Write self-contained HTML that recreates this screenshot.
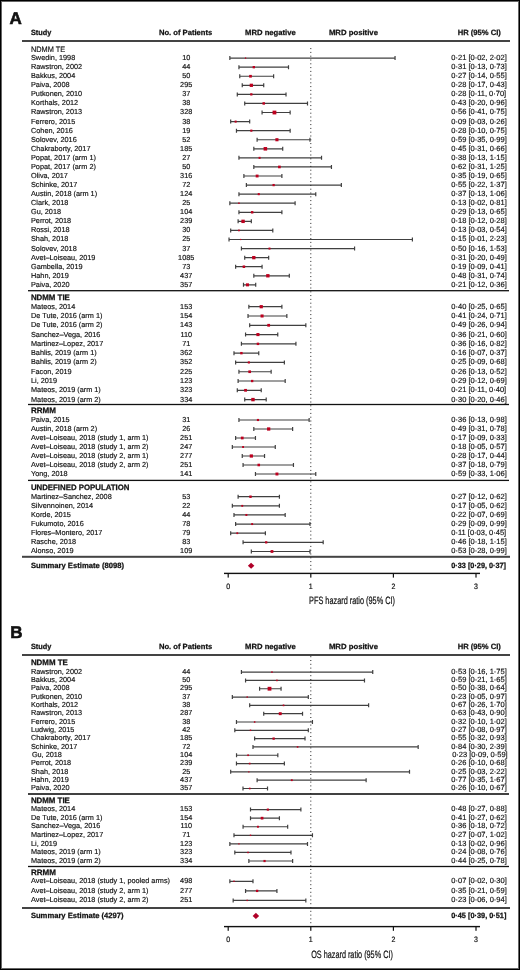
<!DOCTYPE html>
<html><head><meta charset="utf-8"><style>
html,body{margin:0;padding:0;background:#fff}
body{width:520px;height:970px;overflow:hidden;position:relative}
.frame{position:absolute;left:0;top:0;width:518px;height:968px;border:1px solid #000}
.frame2{position:absolute;left:1px;top:1px;width:516px;height:966px;border:1px solid #666}
svg{position:absolute;left:0;top:0;will-change:transform}

text{font-family:"Liberation Sans", sans-serif;fill:#111;text-rendering:geometricPrecision;stroke:#111;stroke-width:0.16px}
.r{font-size:7.3px}
.h{font-size:7.5px}
.gb{font-size:7.9px;font-weight:bold;stroke-width:0.25px}
.gr{font-size:7.9px}
.b{font-size:7.6px;font-weight:bold;stroke-width:0.25px}
.w{stroke:#404040;stroke-width:1.2;fill:none}
.pt{fill:#bd001f}
.c{font-size:10.6px;stroke:#111;stroke-width:0.22px}
.tk{font-size:7.8px;stroke:#111;stroke-width:0.2px}

</style></head><body>
<svg width="520" height="970" viewBox="0 0 520 970">
<text x="9.6" y="23.75" style="font-size:17px;font-weight:bold;stroke-width:0.6px">A</text>
<text x="30.9" y="34.60" class="b" textLength="20.4" lengthAdjust="spacingAndGlyphs">Study</text>
<text x="158.9" y="34.60" class="b" textLength="53.4" lengthAdjust="spacingAndGlyphs">No. of Patients</text>
<text x="245.1" y="34.60" class="b" textLength="50.6" lengthAdjust="spacingAndGlyphs">MRD negative</text>
<text x="328.9" y="34.60" class="b" textLength="49.1" lengthAdjust="spacingAndGlyphs">MRD positive</text>
<text x="457.7" y="34.60" class="b" textLength="43.1" lengthAdjust="spacingAndGlyphs">HR (95% CI)</text>
<rect x="22" y="40.0" width="488" height="2" fill="#444"/>
<text x="30.9" y="51.90" class="gr" textLength="34.3" lengthAdjust="spacingAndGlyphs">NDMM TE</text>
<text x="31" y="60.05" class="r">Swedin, 1998</text>
<text x="186.2" y="60.05" class="r" text-anchor="middle">10</text>
<text x="451.3" y="60.05" class="h">0·21 [0·02, 2·02]</text>
<path d="M229.85 58.10H395.05M229.85 56.10v4M395.05 56.10v4" class="w"/>
<rect x="244.89" y="57.45" width="1.30" height="1.30" class="pt"/>
<text x="31" y="69.12" class="r">Rawstron, 2002</text>
<text x="186.2" y="69.12" class="r" text-anchor="middle">44</text>
<text x="451.3" y="69.12" class="h">0·31 [0·13, 0·73]</text>
<path d="M238.94 67.17H288.50M238.94 65.17v4M288.50 65.17v4" class="w"/>
<rect x="252.63" y="66.00" width="2.35" height="2.35" class="pt"/>
<text x="31" y="78.19" class="r">Bakkus, 2004</text>
<text x="186.2" y="78.19" class="r" text-anchor="middle">50</text>
<text x="451.3" y="78.19" class="h">0·27 [0·14, 0·55]</text>
<path d="M239.76 76.24H273.63M239.76 74.24v4M273.63 74.24v4" class="w"/>
<rect x="249.16" y="74.90" width="2.69" height="2.69" class="pt"/>
<text x="31" y="87.26" class="r">Paiva, 2008</text>
<text x="186.2" y="87.26" class="r" text-anchor="middle">295</text>
<text x="451.3" y="87.26" class="h">0·28 [0·17, 0·43]</text>
<path d="M242.24 85.31H263.72M242.24 83.31v4M263.72 83.31v4" class="w"/>
<rect x="249.70" y="83.68" width="3.26" height="3.26" class="pt"/>
<text x="31" y="96.33" class="r">Putkonen, 2010</text>
<text x="186.2" y="96.33" class="r" text-anchor="middle">37</text>
<text x="451.3" y="96.33" class="h">0·28 [0·11, 0·70]</text>
<path d="M237.29 94.38H286.02M237.29 92.38v4M286.02 92.38v4" class="w"/>
<rect x="250.20" y="93.25" width="2.25" height="2.25" class="pt"/>
<text x="31" y="105.40" class="r">Korthals, 2012</text>
<text x="186.2" y="105.40" class="r" text-anchor="middle">38</text>
<text x="451.3" y="105.40" class="h">0·43 [0·20, 0·96]</text>
<path d="M244.72 103.45H307.50M244.72 101.45v4M307.50 101.45v4" class="w"/>
<rect x="262.48" y="102.21" width="2.48" height="2.48" class="pt"/>
<text x="31" y="114.47" class="r">Rawstron, 2013</text>
<text x="186.2" y="114.47" class="r" text-anchor="middle">328</text>
<text x="451.3" y="114.47" class="h">0·56 [0·41, 0·75]</text>
<path d="M262.07 112.52H290.15M262.07 110.52v4M290.15 110.52v4" class="w"/>
<rect x="272.56" y="110.62" width="3.80" height="3.80" class="pt"/>
<text x="31" y="123.54" class="r">Ferrero, 2015</text>
<text x="186.2" y="123.54" class="r" text-anchor="middle">38</text>
<text x="451.3" y="123.54" class="h">0·09 [0·03, 0·26]</text>
<path d="M230.68 121.59H249.68M230.68 119.59v4M249.68 119.59v4" class="w"/>
<rect x="234.61" y="120.57" width="2.05" height="2.05" class="pt"/>
<text x="31" y="132.61" class="r">Cohen, 2016</text>
<text x="186.2" y="132.61" class="r" text-anchor="middle">19</text>
<text x="451.3" y="132.61" class="h">0·28 [0·10, 0·75]</text>
<path d="M236.46 130.66H290.15M236.46 128.66v4M290.15 128.66v4" class="w"/>
<rect x="250.26" y="129.59" width="2.14" height="2.14" class="pt"/>
<text x="31" y="141.68" class="r">Solovev, 2016</text>
<text x="186.2" y="141.68" class="r" text-anchor="middle">52</text>
<text x="451.3" y="141.68" class="h">0·59 [0·35, 0·99]</text>
<path d="M257.11 139.73H309.97M257.11 137.73v4M309.97 137.73v4" class="w"/>
<rect x="275.38" y="138.18" width="3.10" height="3.10" class="pt"/>
<text x="31" y="150.75" class="r">Chakraborty, 2017</text>
<text x="186.2" y="150.75" class="r" text-anchor="middle">185</text>
<text x="451.3" y="150.75" class="h">0·45 [0·31, 0·66]</text>
<path d="M253.81 148.80H282.72M253.81 146.80v4M282.72 146.80v4" class="w"/>
<rect x="263.60" y="147.03" width="3.54" height="3.54" class="pt"/>
<text x="31" y="159.82" class="r">Popat, 2017 (arm 1)</text>
<text x="186.2" y="159.82" class="r" text-anchor="middle">27</text>
<text x="451.3" y="159.82" class="h">0·38 [0·13, 1·15]</text>
<path d="M238.94 157.87H321.54M238.94 155.87v4M321.54 155.87v4" class="w"/>
<rect x="258.57" y="156.85" width="2.03" height="2.03" class="pt"/>
<text x="31" y="168.89" class="r">Popat, 2017 (arm 2)</text>
<text x="186.2" y="168.89" class="r" text-anchor="middle">50</text>
<text x="451.3" y="168.89" class="h">0·62 [0·31, 1·25]</text>
<path d="M253.81 166.94H331.45M253.81 164.94v4M331.45 164.94v4" class="w"/>
<rect x="278.08" y="165.61" width="2.66" height="2.66" class="pt"/>
<text x="31" y="177.96" class="r">Oliva, 2017</text>
<text x="186.2" y="177.96" class="r" text-anchor="middle">316</text>
<text x="451.3" y="177.96" class="h">0·35 [0·19, 0·65]</text>
<path d="M243.89 176.01H281.89M243.89 174.01v4M281.89 174.01v4" class="w"/>
<rect x="255.69" y="174.59" width="2.85" height="2.85" class="pt"/>
<text x="31" y="187.03" class="r">Schinke, 2017</text>
<text x="186.2" y="187.03" class="r" text-anchor="middle">72</text>
<text x="451.3" y="187.03" class="h">0·55 [0·22, 1·37]</text>
<path d="M246.37 185.08H341.36M246.37 183.08v4M341.36 183.08v4" class="w"/>
<rect x="272.50" y="183.95" width="2.27" height="2.27" class="pt"/>
<text x="31" y="196.10" class="r">Austin, 2018 (arm 1)</text>
<text x="186.2" y="196.10" class="r" text-anchor="middle">124</text>
<text x="451.3" y="196.10" class="h">0·37 [0·13, 1·06]</text>
<path d="M238.94 194.15H315.76M238.94 192.15v4M315.76 192.15v4" class="w"/>
<rect x="257.72" y="193.11" width="2.08" height="2.08" class="pt"/>
<text x="31" y="205.17" class="r">Clark, 2018</text>
<text x="186.2" y="205.17" class="r" text-anchor="middle">25</text>
<text x="451.3" y="205.17" class="h">0·13 [0·02, 0·81]</text>
<path d="M229.85 203.22H295.11M229.85 201.22v4M295.11 201.22v4" class="w"/>
<rect x="238.20" y="202.48" width="1.48" height="1.48" class="pt"/>
<text x="31" y="214.24" class="r">Gu, 2018</text>
<text x="186.2" y="214.24" class="r" text-anchor="middle">104</text>
<text x="451.3" y="214.24" class="h">0·29 [0·13, 0·65]</text>
<path d="M238.94 212.29H281.89M238.94 210.29v4M281.89 210.29v4" class="w"/>
<rect x="250.93" y="211.07" width="2.45" height="2.45" class="pt"/>
<text x="31" y="223.31" class="r">Perrot, 2018</text>
<text x="186.2" y="223.31" class="r" text-anchor="middle">239</text>
<text x="451.3" y="223.31" class="h">0·18 [0·12, 0·28]</text>
<path d="M238.11 221.36H251.33M238.11 219.36v4M251.33 219.36v4" class="w"/>
<rect x="241.37" y="219.66" width="3.39" height="3.39" class="pt"/>
<text x="31" y="232.38" class="r">Rossi, 2018</text>
<text x="186.2" y="232.38" class="r" text-anchor="middle">30</text>
<text x="451.3" y="232.38" class="h">0·13 [0·03, 0·54]</text>
<path d="M230.68 230.43H272.80M230.68 228.43v4M272.80 228.43v4" class="w"/>
<rect x="238.08" y="229.57" width="1.71" height="1.71" class="pt"/>
<text x="31" y="241.45" class="r">Shah, 2018</text>
<text x="186.2" y="241.45" class="r" text-anchor="middle">25</text>
<text x="451.3" y="241.45" class="h">0·15 [0·01, 2·23]</text>
<path d="M229.03 239.50H412.40M229.03 237.50v4M412.40 237.50v4" class="w"/>
<rect x="239.99" y="238.90" width="1.20" height="1.20" class="pt"/>
<text x="31" y="250.52" class="r">Solovev, 2018</text>
<text x="186.2" y="250.52" class="r" text-anchor="middle">37</text>
<text x="451.3" y="250.52" class="h">0·50 [0·16, 1·53]</text>
<path d="M241.42 248.57H354.58M241.42 246.57v4M354.58 246.57v4" class="w"/>
<rect x="268.50" y="247.57" width="1.99" height="1.99" class="pt"/>
<text x="31" y="259.59" class="r">Avet–Loiseau, 2019</text>
<text x="186.2" y="259.59" class="r" text-anchor="middle">1085</text>
<text x="451.3" y="259.59" class="h">0·31 [0·20, 0·49]</text>
<path d="M244.72 257.64H268.67M244.72 255.64v4M268.67 255.64v4" class="w"/>
<rect x="252.15" y="255.98" width="3.31" height="3.31" class="pt"/>
<text x="31" y="268.66" class="r">Gambella, 2019</text>
<text x="186.2" y="268.66" class="r" text-anchor="middle">73</text>
<text x="451.3" y="268.66" class="h">0·19 [0·09, 0·41]</text>
<path d="M235.63 266.71H262.07M235.63 264.71v4M262.07 264.71v4" class="w"/>
<rect x="242.63" y="265.44" width="2.53" height="2.53" class="pt"/>
<text x="31" y="277.73" class="r">Hahn, 2019</text>
<text x="186.2" y="277.73" class="r" text-anchor="middle">437</text>
<text x="451.3" y="277.73" class="h">0·48 [0·31, 0·74]</text>
<path d="M253.81 275.78H289.32M253.81 273.78v4M289.32 273.78v4" class="w"/>
<rect x="266.17" y="274.10" width="3.35" height="3.35" class="pt"/>
<text x="31" y="286.80" class="r">Paiva, 2020</text>
<text x="186.2" y="286.80" class="r" text-anchor="middle">357</text>
<text x="451.3" y="286.80" class="h">0·21 [0·12, 0·36]</text>
<path d="M243.48 284.85H255.71M243.48 282.85v4M255.71 282.85v4" class="w"/>
<rect x="245.94" y="283.34" width="3.02" height="3.02" class="pt"/>
<rect x="28" y="290.05" width="481" height="1.3" fill="#111"/>
<text x="30.9" y="299.50" class="gb" textLength="39" lengthAdjust="spacingAndGlyphs">NDMM TIE</text>
<text x="31" y="308.65" class="r">Mateos, 2014</text>
<text x="186.2" y="308.65" class="r" text-anchor="middle">153</text>
<text x="451.3" y="308.65" class="h">0·40 [0·25, 0·65]</text>
<path d="M248.85 306.70H281.89M248.85 304.70v4M281.89 304.70v4" class="w"/>
<rect x="259.63" y="305.09" width="3.22" height="3.22" class="pt"/>
<text x="31" y="317.94" class="r">De Tute, 2016 (arm 1)</text>
<text x="186.2" y="317.94" class="r" text-anchor="middle">154</text>
<text x="451.3" y="317.94" class="h">0·41 [0·24, 0·71]</text>
<path d="M248.02 315.99H286.85M248.02 313.99v4M286.85 313.99v4" class="w"/>
<rect x="260.55" y="314.47" width="3.04" height="3.04" class="pt"/>
<text x="31" y="327.23" class="r">De Tute, 2016 (arm 2)</text>
<text x="186.2" y="327.23" class="r" text-anchor="middle">143</text>
<text x="451.3" y="327.23" class="h">0·49 [0·26, 0·94]</text>
<path d="M249.68 325.28H305.84M249.68 323.28v4M305.84 323.28v4" class="w"/>
<rect x="267.28" y="323.89" width="2.78" height="2.78" class="pt"/>
<text x="31" y="336.52" class="r">Sanchez–Vega, 2016</text>
<text x="186.2" y="336.52" class="r" text-anchor="middle">110</text>
<text x="451.3" y="336.52" class="h">0·36 [0·21, 0·60]</text>
<path d="M245.55 334.57H277.76M245.55 332.57v4M277.76 332.57v4" class="w"/>
<rect x="256.39" y="333.03" width="3.08" height="3.08" class="pt"/>
<text x="31" y="345.81" class="r">Martinez–Lopez, 2017</text>
<text x="186.2" y="345.81" class="r" text-anchor="middle">71</text>
<text x="451.3" y="345.81" class="h">0·36 [0·16, 0·82]</text>
<path d="M241.42 343.86H295.93M241.42 341.86v4M295.93 341.86v4" class="w"/>
<rect x="256.72" y="342.65" width="2.43" height="2.43" class="pt"/>
<text x="31" y="355.10" class="r">Bahlis, 2019 (arm 1)</text>
<text x="186.2" y="355.10" class="r" text-anchor="middle">362</text>
<text x="451.3" y="355.10" class="h">0·16 [0·07, 0·37]</text>
<path d="M233.98 353.15H258.76M233.98 351.15v4M258.76 351.15v4" class="w"/>
<rect x="240.22" y="351.95" width="2.40" height="2.40" class="pt"/>
<text x="31" y="364.39" class="r">Bahlis, 2019 (arm 2)</text>
<text x="186.2" y="364.39" class="r" text-anchor="middle">352</text>
<text x="451.3" y="364.39" class="h">0·25 [0·09, 0·68]</text>
<path d="M235.63 362.44H284.37M235.63 360.44v4M284.37 360.44v4" class="w"/>
<rect x="247.78" y="361.37" width="2.13" height="2.13" class="pt"/>
<text x="31" y="373.68" class="r">Facon, 2019</text>
<text x="186.2" y="373.68" class="r" text-anchor="middle">225</text>
<text x="451.3" y="373.68" class="h">0·26 [0·13, 0·52]</text>
<path d="M238.94 371.73H271.15M238.94 369.73v4M271.15 369.73v4" class="w"/>
<rect x="248.34" y="370.40" width="2.67" height="2.67" class="pt"/>
<text x="31" y="382.97" class="r">Li, 2019</text>
<text x="186.2" y="382.97" class="r" text-anchor="middle">123</text>
<text x="451.3" y="382.97" class="h">0·29 [0·12, 0·69]</text>
<path d="M238.11 381.02H285.19M238.11 379.02v4M285.19 379.02v4" class="w"/>
<rect x="250.99" y="379.86" width="2.33" height="2.33" class="pt"/>
<text x="31" y="392.26" class="r">Mateos, 2019 (arm 1)</text>
<text x="186.2" y="392.26" class="r" text-anchor="middle">323</text>
<text x="451.3" y="392.26" class="h">0·21 [0·11, 0·40]</text>
<path d="M237.29 390.31H261.24M237.29 388.31v4M261.24 388.31v4" class="w"/>
<rect x="244.16" y="388.92" width="2.77" height="2.77" class="pt"/>
<text x="31" y="401.55" class="r">Mateos, 2019 (arm 2)</text>
<text x="186.2" y="401.55" class="r" text-anchor="middle">334</text>
<text x="451.3" y="401.55" class="h">0·30 [0·20, 0·46]</text>
<path d="M244.72 399.60H266.20M244.72 397.60v4M266.20 397.60v4" class="w"/>
<rect x="251.27" y="397.89" width="3.41" height="3.41" class="pt"/>
<rect x="28" y="403.85" width="481" height="1.3" fill="#111"/>
<text x="30.9" y="412.70" class="gb" textLength="25" lengthAdjust="spacingAndGlyphs">RRMM</text>
<text x="31" y="421.95" class="r">Paiva, 2015</text>
<text x="186.2" y="421.95" class="r" text-anchor="middle">31</text>
<text x="451.3" y="421.95" class="h">0·36 [0·13, 0·98]</text>
<path d="M238.94 420.00H309.15M238.94 418.00v4M309.15 418.00v4" class="w"/>
<rect x="256.87" y="418.93" width="2.13" height="2.13" class="pt"/>
<text x="31" y="430.95" class="r">Austin, 2018 (arm 2)</text>
<text x="186.2" y="430.95" class="r" text-anchor="middle">26</text>
<text x="451.3" y="430.95" class="h">0·49 [0·31, 0·78]</text>
<path d="M253.81 429.00H292.63M253.81 427.00v4M292.63 427.00v4" class="w"/>
<rect x="267.04" y="427.36" width="3.27" height="3.27" class="pt"/>
<text x="31" y="439.95" class="r">Avet–Loiseau, 2018 (study 1, arm 1)</text>
<text x="186.2" y="439.95" class="r" text-anchor="middle">251</text>
<text x="451.3" y="439.95" class="h">0·17 [0·09, 0·33]</text>
<path d="M235.63 438.00H255.46M235.63 436.00v4M255.46 436.00v4" class="w"/>
<rect x="240.86" y="436.62" width="2.76" height="2.76" class="pt"/>
<text x="31" y="448.95" class="r">Avet–Loiseau, 2018 (study 1, arm 2)</text>
<text x="186.2" y="448.95" class="r" text-anchor="middle">247</text>
<text x="451.3" y="448.95" class="h">0·18 [0·05, 0·57]</text>
<path d="M232.33 447.00H275.28M232.33 445.00v4M275.28 445.00v4" class="w"/>
<rect x="242.12" y="446.05" width="1.90" height="1.90" class="pt"/>
<text x="31" y="457.95" class="r">Avet–Loiseau, 2018 (study 2, arm 1)</text>
<text x="186.2" y="457.95" class="r" text-anchor="middle">277</text>
<text x="451.3" y="457.95" class="h">0·28 [0·17, 0·44]</text>
<path d="M242.24 456.00H264.54M242.24 454.00v4M264.54 454.00v4" class="w"/>
<rect x="249.71" y="454.39" width="3.23" height="3.23" class="pt"/>
<text x="31" y="466.95" class="r">Avet–Loiseau, 2018 (study 2, arm 2)</text>
<text x="186.2" y="466.95" class="r" text-anchor="middle">251</text>
<text x="451.3" y="466.95" class="h">0·37 [0·18, 0·79]</text>
<path d="M243.07 465.00H293.45M243.07 463.00v4M293.45 463.00v4" class="w"/>
<rect x="257.48" y="463.71" width="2.57" height="2.57" class="pt"/>
<text x="31" y="475.95" class="r">Yong, 2018</text>
<text x="186.2" y="475.95" class="r" text-anchor="middle">141</text>
<text x="451.3" y="475.95" class="h">0·59 [0·33, 1·06]</text>
<path d="M255.46 474.00H315.76M255.46 472.00v4M315.76 472.00v4" class="w"/>
<rect x="275.47" y="472.54" width="2.93" height="2.93" class="pt"/>
<rect x="28" y="479.75" width="481" height="1.3" fill="#111"/>
<text x="30.9" y="489.70" class="gb" textLength="98.6" lengthAdjust="spacingAndGlyphs">UNDEFINED POPULATION</text>
<text x="31" y="498.65" class="r">Martinez–Sanchez, 2008</text>
<text x="186.2" y="498.65" class="r" text-anchor="middle">53</text>
<text x="451.3" y="498.65" class="h">0·27 [0·12, 0·62]</text>
<path d="M238.11 496.70H279.41M238.11 494.70v4M279.41 494.70v4" class="w"/>
<rect x="249.29" y="495.49" width="2.42" height="2.42" class="pt"/>
<text x="31" y="507.78" class="r">Silvennoinen, 2014</text>
<text x="186.2" y="507.78" class="r" text-anchor="middle">22</text>
<text x="451.3" y="507.78" class="h">0·17 [0·05, 0·62]</text>
<path d="M232.33 505.83H279.41M232.33 503.83v4M279.41 503.83v4" class="w"/>
<rect x="241.31" y="504.90" width="1.86" height="1.86" class="pt"/>
<text x="31" y="516.91" class="r">Korde, 2015</text>
<text x="186.2" y="516.91" class="r" text-anchor="middle">44</text>
<text x="451.3" y="516.91" class="h">0·22 [0·07, 0·69]</text>
<path d="M233.98 514.96H285.19M233.98 512.96v4M285.19 512.96v4" class="w"/>
<rect x="245.38" y="513.97" width="1.97" height="1.97" class="pt"/>
<text x="31" y="526.04" class="r">Fukumoto, 2016</text>
<text x="186.2" y="526.04" class="r" text-anchor="middle">78</text>
<text x="451.3" y="526.04" class="h">0·29 [0·09, 0·99]</text>
<path d="M235.63 524.09H309.97M235.63 522.09v4M309.97 522.09v4" class="w"/>
<rect x="251.19" y="523.13" width="1.92" height="1.92" class="pt"/>
<text x="31" y="535.17" class="r">Flores–Montero, 2017</text>
<text x="186.2" y="535.17" class="r" text-anchor="middle">79</text>
<text x="451.3" y="535.17" class="h">0·11 [0·03, 0·45]</text>
<path d="M230.68 533.22H265.37M230.68 531.22v4M265.37 531.22v4" class="w"/>
<rect x="236.40" y="532.33" width="1.78" height="1.78" class="pt"/>
<text x="31" y="544.30" class="r">Rasche, 2018</text>
<text x="186.2" y="544.30" class="r" text-anchor="middle">83</text>
<text x="451.3" y="544.30" class="h">0·46 [0·18, 1·15]</text>
<path d="M243.07 542.35H323.19M243.07 540.35v4M323.19 540.35v4" class="w"/>
<rect x="265.07" y="541.23" width="2.25" height="2.25" class="pt"/>
<text x="31" y="553.43" class="r">Alonso, 2019</text>
<text x="186.2" y="553.43" class="r" text-anchor="middle">109</text>
<text x="451.3" y="553.43" class="h">0·53 [0·28, 0·99]</text>
<path d="M251.33 551.48H309.97M251.33 549.48v4M309.97 549.48v4" class="w"/>
<rect x="270.57" y="550.08" width="2.81" height="2.81" class="pt"/>
<rect x="22" y="555.8" width="488" height="2" fill="#444"/>
<line x1="310.8" y1="48.1" x2="310.8" y2="571" stroke="#222" stroke-width="1" stroke-dasharray="1 2.8"/>
<text x="30.9" y="567.7" class="b" textLength="93.1" lengthAdjust="spacingAndGlyphs">Summary Estimate (8098)</text>
<path d="M247.85 565.70L251.10 562.65L254.35 565.70L251.10 568.75Z" fill="#b00028"/>
<text x="451.25" y="567.5" class="b" textLength="54.8" lengthAdjust="spacingAndGlyphs">0·33 [0·29, 0·37]</text>
<rect x="224" y="572.70" width="256" height="1.4" fill="#111"/>
<rect x="227.60" y="573.40" width="1.2" height="4.2" fill="#111"/>
<text x="228.20" y="588.80" text-anchor="middle" class="tk" transform="translate(228.20 0) scale(0.9 1) translate(-228.20 0)">0</text>
<rect x="310.20" y="573.40" width="1.2" height="4.2" fill="#111"/>
<text x="310.80" y="588.80" text-anchor="middle" class="tk" transform="translate(310.80 0) scale(0.9 1) translate(-310.80 0)">1</text>
<rect x="392.80" y="573.40" width="1.2" height="4.2" fill="#111"/>
<text x="393.40" y="588.80" text-anchor="middle" class="tk" transform="translate(393.40 0) scale(0.9 1) translate(-393.40 0)">2</text>
<rect x="475.40" y="573.40" width="1.2" height="4.2" fill="#111"/>
<text x="476.00" y="588.80" text-anchor="middle" class="tk" transform="translate(476.00 0) scale(0.9 1) translate(-476.00 0)">3</text>
<text x="352" y="603.70" text-anchor="middle" class="c" textLength="85.9" lengthAdjust="spacingAndGlyphs">PFS hazard ratio (95% CI)</text>
<text x="10.3" y="637.65" style="font-size:17px;font-weight:bold;stroke-width:0.6px">B</text>
<text x="30.9" y="648.50" class="b" textLength="20.4" lengthAdjust="spacingAndGlyphs">Study</text>
<text x="158.9" y="648.50" class="b" textLength="53.4" lengthAdjust="spacingAndGlyphs">No. of Patients</text>
<text x="245.1" y="648.50" class="b" textLength="50.6" lengthAdjust="spacingAndGlyphs">MRD negative</text>
<text x="328.9" y="648.50" class="b" textLength="49.1" lengthAdjust="spacingAndGlyphs">MRD positive</text>
<text x="457.7" y="648.50" class="b" textLength="43.1" lengthAdjust="spacingAndGlyphs">HR (95% CI)</text>
<rect x="22" y="654" width="488" height="2" fill="#444"/>
<text x="30.9" y="665.40" class="gb" textLength="36.9" lengthAdjust="spacingAndGlyphs">NDMM TE</text>
<text x="31" y="673.75" class="r">Rawstron, 2002</text>
<text x="186.2" y="673.75" class="r" text-anchor="middle">44</text>
<text x="451.3" y="673.75" class="h">0·53 [0·16, 1·75]</text>
<path d="M241.42 672.10H372.75M241.42 670.10v4M372.75 670.10v4" class="w"/>
<rect x="271.23" y="671.36" width="1.49" height="1.49" class="pt"/>
<text x="31" y="682.06" class="r">Bakkus, 2004</text>
<text x="186.2" y="682.06" class="r" text-anchor="middle">50</text>
<text x="451.3" y="682.06" class="h">0·59 [0·21, 1·65]</text>
<path d="M245.55 680.41H364.49M245.55 678.41v4M364.49 678.41v4" class="w"/>
<rect x="276.14" y="679.62" width="1.59" height="1.59" class="pt"/>
<text x="31" y="690.38" class="r">Paiva, 2008</text>
<text x="186.2" y="690.38" class="r" text-anchor="middle">295</text>
<text x="451.3" y="690.38" class="h">0·50 [0·38, 0·64]</text>
<path d="M259.59 688.73H281.06M259.59 686.73v4M281.06 686.73v4" class="w"/>
<rect x="267.60" y="686.83" width="3.80" height="3.80" class="pt"/>
<text x="31" y="698.69" class="r">Putkonen, 2010</text>
<text x="186.2" y="698.69" class="r" text-anchor="middle">37</text>
<text x="451.3" y="698.69" class="h">0·23 [0·05, 0·97]</text>
<path d="M232.33 697.04H308.32M232.33 695.04v4M308.32 695.04v4" class="w"/>
<rect x="246.52" y="696.36" width="1.36" height="1.36" class="pt"/>
<text x="31" y="707.01" class="r">Korthals, 2012</text>
<text x="186.2" y="707.01" class="r" text-anchor="middle">38</text>
<text x="451.3" y="707.01" class="h">0·67 [0·26, 1·70]</text>
<path d="M249.68 705.36H368.62M249.68 703.36v4M368.62 703.36v4" class="w"/>
<rect x="282.71" y="704.52" width="1.66" height="1.66" class="pt"/>
<text x="31" y="715.32" class="r">Rawstron, 2013</text>
<text x="186.2" y="715.32" class="r" text-anchor="middle">287</text>
<text x="451.3" y="715.32" class="h">0·63 [0·43, 0·90]</text>
<path d="M263.72 713.67H302.54M263.72 711.67v4M302.54 711.67v4" class="w"/>
<rect x="278.77" y="712.21" width="2.93" height="2.93" class="pt"/>
<text x="31" y="723.63" class="r">Ferrero, 2015</text>
<text x="186.2" y="723.63" class="r" text-anchor="middle">38</text>
<text x="451.3" y="723.63" class="h">0·32 [0·10, 1·02]</text>
<path d="M236.46 721.98H312.45M236.46 719.98v4M312.45 719.98v4" class="w"/>
<rect x="253.88" y="721.23" width="1.51" height="1.51" class="pt"/>
<text x="31" y="731.95" class="r">Ludwig, 2015</text>
<text x="186.2" y="731.95" class="r" text-anchor="middle">42</text>
<text x="451.3" y="731.95" class="h">0·27 [0·08, 0·97]</text>
<path d="M234.81 730.30H308.32M234.81 728.30v4M308.32 728.30v4" class="w"/>
<rect x="249.77" y="729.57" width="1.46" height="1.46" class="pt"/>
<text x="31" y="740.26" class="r">Chakraborty, 2017</text>
<text x="186.2" y="740.26" class="r" text-anchor="middle">185</text>
<text x="451.3" y="740.26" class="h">0·55 [0·32, 0·93]</text>
<path d="M254.63 738.61H305.02M254.63 736.61v4M305.02 736.61v4" class="w"/>
<rect x="272.49" y="737.47" width="2.29" height="2.29" class="pt"/>
<text x="31" y="748.58" class="r">Schinke, 2017</text>
<text x="186.2" y="748.58" class="r" text-anchor="middle">72</text>
<text x="451.3" y="748.58" class="h">0·84 [0·30, 2·39]</text>
<path d="M252.98 746.93H418.18M252.98 744.93v4M418.18 744.93v4" class="w"/>
<rect x="296.79" y="746.13" width="1.58" height="1.58" class="pt"/>
<text x="31.9" y="756.89" class="r">Gu, 2018</text>
<text x="186.2" y="756.89" class="r" text-anchor="middle">104</text>
<text x="452.2" y="756.89" class="h">0·23 [0·09, 0·59]</text>
<path d="M236.53 755.24H277.83M236.53 753.24v4M277.83 753.24v4" class="w"/>
<rect x="247.27" y="754.41" width="1.66" height="1.66" class="pt"/>
<text x="31" y="765.20" class="r">Perrot, 2018</text>
<text x="186.2" y="765.20" class="r" text-anchor="middle">239</text>
<text x="451.3" y="765.20" class="h">0·26 [0·10, 0·68]</text>
<path d="M236.46 763.55H284.37M236.46 761.55v4M284.37 761.55v4" class="w"/>
<rect x="248.85" y="762.73" width="1.65" height="1.65" class="pt"/>
<text x="31" y="773.52" class="r">Shah, 2018</text>
<text x="186.2" y="773.52" class="r" text-anchor="middle">25</text>
<text x="451.3" y="773.52" class="h">0·25 [0·03, 2·22]</text>
<path d="M230.68 771.87H409.51M230.68 769.87v4M409.51 769.87v4" class="w"/>
<rect x="248.25" y="771.27" width="1.20" height="1.20" class="pt"/>
<text x="31" y="781.83" class="r">Hahn, 2019</text>
<text x="186.2" y="781.83" class="r" text-anchor="middle">437</text>
<text x="451.3" y="781.83" class="h">0·77 [0·35, 1·67]</text>
<path d="M257.11 780.18H366.14M257.11 778.18v4M366.14 778.18v4" class="w"/>
<rect x="290.89" y="779.27" width="1.83" height="1.83" class="pt"/>
<text x="31" y="790.15" class="r">Paiva, 2020</text>
<text x="186.2" y="790.15" class="r" text-anchor="middle">357</text>
<text x="451.3" y="790.15" class="h">0·26 [0·10, 0·67]</text>
<path d="M242.99 788.50H267.52M242.99 786.50v4M267.52 786.50v4" class="w"/>
<rect x="248.93" y="787.67" width="1.65" height="1.65" class="pt"/>
<rect x="28" y="793.05" width="481" height="1.9" fill="#383838"/>
<text x="30.9" y="803.00" class="gb" textLength="39" lengthAdjust="spacingAndGlyphs">NDMM TIE</text>
<text x="31" y="811.25" class="r">Mateos, 2014</text>
<text x="186.2" y="811.25" class="r" text-anchor="middle">153</text>
<text x="451.3" y="811.25" class="h">0·48 [0·27, 0·88]</text>
<path d="M250.50 809.60H300.89M250.50 807.60v4M300.89 807.60v4" class="w"/>
<rect x="266.77" y="808.53" width="2.15" height="2.15" class="pt"/>
<text x="31" y="819.82" class="r">De Tute, 2016 (arm 1)</text>
<text x="186.2" y="819.82" class="r" text-anchor="middle">154</text>
<text x="451.3" y="819.82" class="h">0·41 [0·27, 0·62]</text>
<path d="M250.50 818.17H279.41M250.50 816.17v4M279.41 816.17v4" class="w"/>
<rect x="260.72" y="816.82" width="2.70" height="2.70" class="pt"/>
<text x="31" y="828.39" class="r">Sanchez–Vega, 2016</text>
<text x="186.2" y="828.39" class="r" text-anchor="middle">110</text>
<text x="451.3" y="828.39" class="h">0·36 [0·18, 0·72]</text>
<path d="M243.07 826.74H287.67M243.07 824.74v4M287.67 824.74v4" class="w"/>
<rect x="256.96" y="825.76" width="1.95" height="1.95" class="pt"/>
<text x="31" y="836.96" class="r">Martinez–Lopez, 2017</text>
<text x="186.2" y="836.96" class="r" text-anchor="middle">71</text>
<text x="451.3" y="836.96" class="h">0·27 [0·07, 1·02]</text>
<path d="M233.98 835.31H312.45M233.98 833.31v4M312.45 833.31v4" class="w"/>
<rect x="249.79" y="834.60" width="1.42" height="1.42" class="pt"/>
<text x="31" y="845.53" class="r">Li, 2019</text>
<text x="186.2" y="845.53" class="r" text-anchor="middle">123</text>
<text x="451.3" y="845.53" class="h">0·13 [0·02, 0·96]</text>
<path d="M229.85 843.88H307.50M229.85 841.88v4M307.50 841.88v4" class="w"/>
<rect x="238.32" y="843.26" width="1.24" height="1.24" class="pt"/>
<text x="31" y="854.10" class="r">Mateos, 2019 (arm 1)</text>
<text x="186.2" y="854.10" class="r" text-anchor="middle">323</text>
<text x="451.3" y="854.10" class="h">0·24 [0·08, 0·76]</text>
<path d="M234.81 852.45H290.98M234.81 850.45v4M290.98 850.45v4" class="w"/>
<rect x="247.26" y="851.69" width="1.53" height="1.53" class="pt"/>
<text x="31" y="862.67" class="r">Mateos, 2019 (arm 2)</text>
<text x="186.2" y="862.67" class="r" text-anchor="middle">334</text>
<text x="451.3" y="862.67" class="h">0·44 [0·25, 0·78]</text>
<path d="M248.85 861.02H292.63M248.85 859.02v4M292.63 859.02v4" class="w"/>
<rect x="263.45" y="859.92" width="2.20" height="2.20" class="pt"/>
<rect x="28" y="865.85" width="481" height="1.3" fill="#111"/>
<text x="30.9" y="874.80" class="gb" textLength="25" lengthAdjust="spacingAndGlyphs">RRMM</text>
<text x="31" y="882.95" class="r">Avet–Loiseau, 2018 (study 1, pooled arms)</text>
<text x="186.2" y="882.95" class="r" text-anchor="middle">498</text>
<text x="451.3" y="882.95" class="h">0·07 [0·02, 0·30]</text>
<path d="M229.85 881.30H252.98M229.85 879.30v4M252.98 879.30v4" class="w"/>
<rect x="233.28" y="880.59" width="1.41" height="1.41" class="pt"/>
<text x="31" y="892.55" class="r">Avet–Loiseau, 2018 (study 2, arm 1)</text>
<text x="186.2" y="892.55" class="r" text-anchor="middle">277</text>
<text x="451.3" y="892.55" class="h">0·35 [0·21, 0·59]</text>
<path d="M245.55 890.90H276.93M245.55 888.90v4M276.93 888.90v4" class="w"/>
<rect x="255.94" y="889.73" width="2.33" height="2.33" class="pt"/>
<text x="31" y="902.05" class="r">Avet–Loiseau, 2018 (study 2, arm 2)</text>
<text x="186.2" y="902.05" class="r" text-anchor="middle">251</text>
<text x="451.3" y="902.05" class="h">0·23 [0·06, 0·94]</text>
<path d="M233.16 900.40H305.84M233.16 898.40v4M305.84 898.40v4" class="w"/>
<rect x="246.50" y="899.70" width="1.40" height="1.40" class="pt"/>
<rect x="22" y="907" width="488" height="2" fill="#444"/>
<line x1="310.8" y1="656.2" x2="310.8" y2="924.5" stroke="#222" stroke-width="1" stroke-dasharray="1 2.8"/>
<text x="30.9" y="917.5" class="b" textLength="92.7" lengthAdjust="spacingAndGlyphs">Summary Estimate (4297)</text>
<path d="M252.65 915.90L255.90 912.85L259.15 915.90L255.90 918.95Z" fill="#b00028"/>
<text x="451.25" y="917.5" class="b" textLength="55.1" lengthAdjust="spacingAndGlyphs">0·45 [0·39, 0·51]</text>
<rect x="224" y="925.90" width="256" height="1.4" fill="#111"/>
<rect x="227.60" y="926.60" width="1.2" height="4.2" fill="#111"/>
<text x="228.20" y="942.00" text-anchor="middle" class="tk" transform="translate(228.20 0) scale(0.9 1) translate(-228.20 0)">0</text>
<rect x="310.20" y="926.60" width="1.2" height="4.2" fill="#111"/>
<text x="310.80" y="942.00" text-anchor="middle" class="tk" transform="translate(310.80 0) scale(0.9 1) translate(-310.80 0)">1</text>
<rect x="392.80" y="926.60" width="1.2" height="4.2" fill="#111"/>
<text x="393.40" y="942.00" text-anchor="middle" class="tk" transform="translate(393.40 0) scale(0.9 1) translate(-393.40 0)">2</text>
<rect x="475.40" y="926.60" width="1.2" height="4.2" fill="#111"/>
<text x="476.00" y="942.00" text-anchor="middle" class="tk" transform="translate(476.00 0) scale(0.9 1) translate(-476.00 0)">3</text>
<text x="352" y="957.70" text-anchor="middle" class="c" textLength="81.7" lengthAdjust="spacingAndGlyphs">OS hazard ratio (95% CI)</text>
</svg>
<div class="frame"></div><div class="frame2"></div>
</body></html>
